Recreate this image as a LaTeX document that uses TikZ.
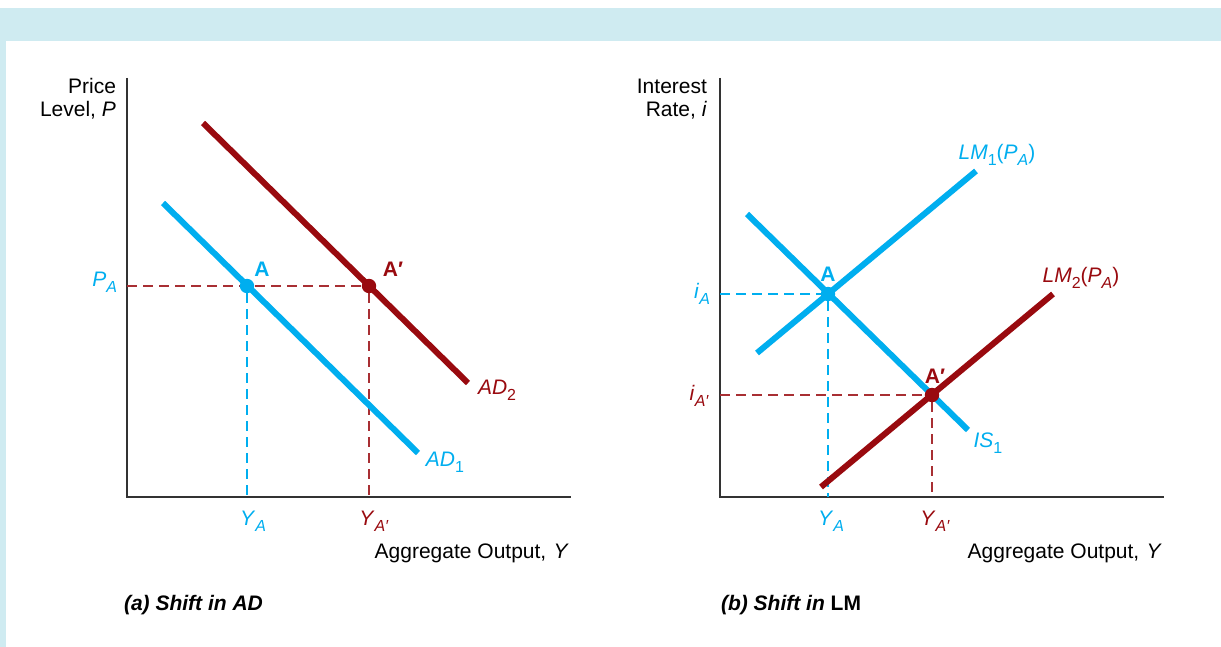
\documentclass[tikz,border=0pt]{standalone}
\usepackage{fontspec}
\setmainfont{Liberation Sans}
\definecolor{cblue}{HTML}{00AEEF}
\definecolor{cred}{HTML}{990A0F}
\definecolor{framebg}{HTML}{CFEBF1}
\definecolor{axisgray}{HTML}{333333}
\newcommand{\sbs}[1]{\raisebox{-.3em}{\fontsize{8}{8}\selectfont #1}}
\newcommand{\lab}[2]{\textit{#1}\sbs{\textit{#2}}}
\newcommand{\labn}[2]{\textit{#1}\sbs{#2}}
\begin{document}
\begin{tikzpicture}[x=.5pt,y=-.5pt,font=\fontsize{10.5}{11.5}\selectfont,
  axisline/.style={draw=axisgray,line width=1pt},
  bluecurve/.style={draw=cblue,line width=3pt},
  redcurve/.style={draw=cred,line width=3pt},
  bluedash/.style={draw=cblue,line width=.6pt,dash pattern=on 5pt off 3pt},
  reddash/.style={draw=cred!85,line width=.6pt,dash pattern=on 5pt off 3pt},
  dot/.style={circle,inner sep=0pt,minimum size=7pt},
  bluetext/.style={text=cblue},
  redtext/.style={text=cred}]
  \useasboundingbox (0,0) rectangle (1221,647);
  \fill[white] (0,0) rectangle (1221,647);
  \fill[framebg] (0,8) rectangle (1221,41);
  \fill[framebg] (0,41) rectangle (6,647);
  % (a)
  \coordinate (aTop) at (127,78);
  \coordinate (aO) at (127,497);
  \coordinate (aEnd) at (571,497);
  \coordinate (aPA) at (127,286);
  \coordinate (aYA) at (247,497);
  \coordinate (aYAp) at (369,497);
  \coordinate (ad1s) at (163,203);
  \coordinate (ad1e) at (418,453);
  \coordinate (ad2s) at (203,123);
  \coordinate (ad2e) at (468,383);
  \draw[axisline] (aTop)--(aO)--(aEnd);
  \node[dot] (A) at (247,286) {};
  \node[dot] (Ap) at (369,286) {};
  \draw[reddash] (aPA)--(Ap);
  \draw[bluedash] (A)--(aYA);
  \draw[reddash] (Ap)--(aYAp);
  \draw[bluecurve] (ad1s)--(ad1e);
  \draw[redcurve] (ad2s)--(ad2e);
  \fill[cblue] (A) circle (3.6pt);
  \fill[cred] (Ap) circle (3.6pt);
  \node[align=right,anchor=east] (aylab) at (123,99) {Price\\Level, \textit{P}};
  \node[bluetext,anchor=east] (PAlab) at (124,282) {\lab{P}{A}};
  \node[bluetext] (Alab) at (262,269) {\textbf{A}};
  \node[redtext] (Aplab) at (393,269) {\textbf{A′}};
  \node[bluetext] (YAlab) at (253,521) {\lab{Y}{A}};
  \node[redtext] (YAplab) at (374,521) {\lab{Y}{A′}};
  \node[bluetext] (AD1lab) at (445,462) {\labn{AD}{1}};
  \node[redtext,anchor=west] (AD2lab) at (471,390) {\labn{AD}{2}};
  \node[anchor=east] (axlab) at (576,553) {Aggregate Output,\hspace{.35em}\textit{Y}};
  \node[anchor=west] (capa) at (117,605) {\textbf{\textit{(a) Shift in AD}}};
  % (b)
  \coordinate (bTop) at (720,78);
  \coordinate (bO) at (720,497);
  \coordinate (bEnd) at (1164,497);
  \coordinate (biA) at (720,294);
  \coordinate (biAp) at (720,395);
  \coordinate (bYA) at (828,497);
  \coordinate (bYAp) at (932,497);
  \coordinate (iss) at (747,214);
  \coordinate (ise) at (968,430);
  \coordinate (lm1s) at (757,353);
  \coordinate (lm1e) at (976,171);
  \coordinate (lm2s) at (821,487);
  \coordinate (lm2e) at (1053,294);
  \draw[axisline] (bTop)--(bO)--(bEnd);
  \node[dot] (B) at (828,294) {};
  \node[dot] (Bp) at (932,395) {};
  \draw[bluedash] (biA)--(B);
  \draw[bluedash] (B)--(bYA);
  \draw[reddash] (biAp)--(Bp);
  \draw[reddash] (Bp)--(bYAp);
  \draw[bluecurve] (iss)--(ise);
  \draw[bluecurve] (lm1s)--(lm1e);
  \draw[redcurve] (lm2s)--(lm2e);
  \fill[cblue] (B) circle (3.6pt);
  \fill[cred] (Bp) circle (3.6pt);
  \node[align=right,anchor=east] (bylab) at (714,99) {Interest\\Rate, \textit{i}};
  \node[bluetext,anchor=east] (iAlab) at (717,294) {\lab{i}{A}};
  \node[redtext,anchor=east] (iAplab) at (716,396) {\lab{i}{A′}};
  \node[bluetext] (Blab) at (828,274) {\textbf{A}};
  \node[redtext] (Bplab) at (935,376) {\textbf{A′}};
  \node[bluetext] (bYAlab) at (831,521) {\lab{Y}{A}};
  \node[redtext] (bYAplab) at (935,521) {\lab{Y}{A′}};
  \node[bluetext] (ISlab) at (988,443) {\labn{IS}{1}};
  \node[bluetext] (LM1lab) at (997,155) {\labn{LM}{1}(\lab{P}{A})};
  \node[redtext] (LM2lab) at (1081,278) {\labn{LM}{2}(\lab{P}{A})};
  \node[anchor=east] (bxlab) at (1169,553) {Aggregate Output,\hspace{.35em}\textit{Y}};
  \node[anchor=west] (capb) at (714,605) {\textbf{\textit{(b) Shift in} LM}};
\end{tikzpicture}
\end{document}
